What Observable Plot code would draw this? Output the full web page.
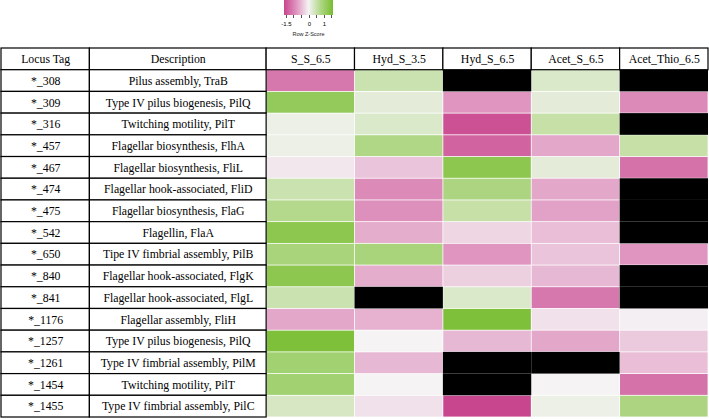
<!DOCTYPE html>
<html><head><meta charset="utf-8">
<script src="https://cdn.jsdelivr.net/npm/d3@7"></script>
<script src="https://cdn.jsdelivr.net/npm/@observablehq/plot@0.6"></script>
<style>
body{margin:0;background:#fff;}
#wrap{position:relative;width:709px;height:419px;}
#legend{position:absolute;left:280px;top:0;}
#zlabel{position:absolute;left:282px;top:31px;width:53px;text-align:center;font:5.5px "Liberation Sans",sans-serif;color:#222;white-space:nowrap;}
</style></head><body>
<div id="wrap"></div>
<script>
const loci = ["*_308","*_309","*_316","*_457","*_467","*_474","*_475","*_542","*_650","*_840","*_841","*_1176","*_1257","*_1261","*_1454","*_1455"];
const descriptions = [
  "Pilus assembly, TraB",
  "Type IV pilus biogenesis, PilQ",
  "Twitching motility, PilT",
  "Flagellar biosynthesis, FlhA",
  "Flagellar biosynthesis, FliL",
  "Flagellar hook-associated, FliD",
  "Flagellar biosynthesis, FlaG",
  "Flagellin, FlaA",
  "Tipe IV fimbrial assembly, PilB",
  "Flagellar hook-associated, FlgK",
  "Flagellar hook-associated, FlgL",
  "Flagellar assembly, FliH",
  "Type IV pilus biogenesis, PilQ",
  "Type IV fimbrial assembly, PilM",
  "Twitching motility, PilT",
  "Type IV fimbrial assembly, PilC"
];
const samples = ["S_S_6.5","Hyd_S_3.5","Hyd_S_6.5","Acet_S_6.5","Acet_Thio_6.5"];
// Row z-scores per sample (null = not available, drawn black)
const S_S_6_5       = [-1.1, 1.2, 0.1, 0.1, -0.1, 0.5, 0.75, 1.3, 0.9, 1.3, 0.5, -0.65, 1.5, 1.0, 1.0, 0.35];
const Hyd_S_3_5     = [0.5, 0.2, 0.3, 0.8, -0.4, -0.9, -0.85, -0.6, 0.9, -0.6, null, -0.55, 0, -0.5, 0, -0.15];
const Hyd_S_6_5     = [null, -0.8, -1.5, -1.3, 1.3, 0.85, 0.55, -0.25, -0.8, -0.3, 0.3, 1.5, -0.5, null, null, -1.6];
const Acet_S_6_5    = [0.3, 0.2, 0.55, -0.65, 0.2, -0.65, -0.7, -0.45, -0.4, -0.5, -1.1, -0.15, -0.65, null, 0, 0.1];
const Acet_Thio_6_5 = [null, -0.9, null, 0.55, -1.15, null, null, null, -0.8, null, null, -0.03, -0.35, -0.45, -1.15, 0.85];
const legendTickLabels = [-1.5, 0, 1];
const legendTicks = [-1.5, -1, -0.5, 0, 0.5, 1, 1.5];
const headerLabels = ["Locus Tag", "Description"];
const legendTitle = "Row Z-Score";

const seriesBySample = {
  "S_S_6.5": S_S_6_5, "Hyd_S_3.5": Hyd_S_3_5, "Hyd_S_6.5": Hyd_S_6_5,
  "Acet_S_6.5": Acet_S_6_5, "Acet_Thio_6.5": Acet_Thio_6_5
};

const colorOpts = {
  type: "linear",
  domain: [-1.6, -0.8, 0, 0.8, 1.6],
  range: ["#c8468e", "#df95bf", "#f5f3f4", "#b0d786", "#78bd30"],
  clamp: true
};

// column layout in units: description is twice as wide
const columns = [...headerLabels, ...samples];
let acc = 0;
const colPos = columns.map(c => {
  const w = c === "Description" ? 2 : 1;
  const p = {name: c, x1: acc, x2: acc + w};
  acc += w;
  return p;
});

const header = colPos.map(c => ({row: "header", x1: c.x1, x2: c.x2, text: c.name}));
const labelCells = loci.flatMap((l, i) => [
  {row: l, x1: colPos[0].x1, x2: colPos[0].x2, text: l},
  {row: l, x1: colPos[1].x1, x2: colPos[1].x2, text: descriptions[i]}
]);
const heat = loci.flatMap((l, i) => samples.map((s, j) => ({
  row: l, x1: colPos[j + 2].x1, x2: colPos[j + 2].x2, z: seriesBySample[s][i]
})));
const tableCells = [...header, ...labelCells];

const chart = Plot.plot({
  width: 709, height: 419,
  marginTop: 48, marginBottom: 2, marginLeft: 1, marginRight: 1,
  x: {type: "linear", domain: [0, acc], axis: null},
  y: {type: "band", domain: ["header", ...loci], padding: 0, round: false, axis: null},
  color: colorOpts,
  style: {background: "white"},
  marks: [
    Plot.barX(heat.filter(d => d.z != null), {x1: "x1", x2: "x2", y: "row", fill: "z", inset: 0.4}),
    Plot.barX(heat.filter(d => d.z == null), {x1: "x1", x2: "x2", y: "row", fill: "black"}),
    Plot.barX(tableCells, {x1: "x1", x2: "x2", y: "row", fill: "white", stroke: "black", strokeWidth: 1.2}),
    Plot.text(tableCells, {x: d => (d.x1 + d.x2) / 2, y: "row", text: "text", fontSize: 11.8, fontFamily: "Liberation Serif, serif", fill: "black"})
  ]
});

const legend = Plot.legend({
  color: colorOpts,
  width: 57, height: 28, marginTop: 0, marginBottom: 13, marginLeft: 4, marginRight: 4,
  ticks: legendTicks,
  tickFormat: d => legendTickLabels.includes(d) ? String(d) : "",
  tickSize: 3,
  label: null,
  style: {fontSize: "6px", fontFamily: "'Liberation Sans', sans-serif"}
});
legend.id = "legend";
d3.select(legend).selectAll(".tick line").attr("y1", 0).attr("y2", 3).attr("stroke", "#555");
d3.select(legend).selectAll(".tick text").attr("y", 7);

const wrap = document.getElementById("wrap");
wrap.appendChild(chart);
wrap.appendChild(legend);
const zl = document.createElement("div");
zl.id = "zlabel";
zl.textContent = legendTitle;
wrap.appendChild(zl);
</script>
</body></html>
